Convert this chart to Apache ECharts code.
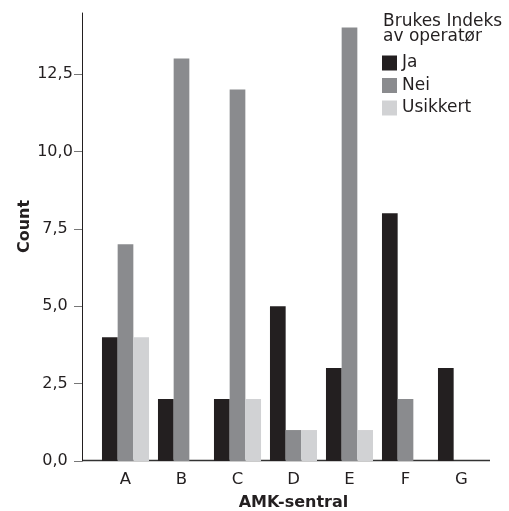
<!DOCTYPE html>
<html>
<head>
<meta charset="utf-8">
<script src="https://cdn.jsdelivr.net/npm/echarts@6/dist/echarts.min.js"></script>
<style>html,body{margin:0;padding:0;background:#fff}#c{width:509px;height:511px}</style>
</head>
<body>
<div id="c"></div>
<script>
var categories = ['A', 'B', 'C', 'D', 'E', 'F', 'G'];
var seriesNames = ['Ja', 'Nei', 'Usikkert'];
var jaValues = [4, 2, 2, 5, 3, 8, 3];
var neiValues = [7, 13, 12, 1, 14, 2, 0];
var usikkertValues = [4, 0, 2, 1, 1, 0, 0];
var yTickValues = [0, 2.5, 5, 7.5, 10, 12.5];
var colors = ['#231f20', '#8a8b8e', '#d1d2d4'];

var FONT = 'DejaVu Sans';
var chart = echarts.init(document.getElementById('c'), null, {renderer: 'canvas'});
var gridLeft = 97.5, gridRight = 489.5, yAxisX = 82, gridTop = 13, gridBottom = 50;

function fmt(v) { return Number(v).toFixed(1).replace('.', ','); }

var option = {
  animation: false,
  backgroundColor: '#ffffff',
  title: {
    text: 'Brukes Indeks\nav operatør',
    left: 383, top: 14.5, padding: 0,
    textStyle: {fontFamily: FONT, fontSize: 17, fontWeight: 'normal', color: '#231f20', lineHeight: 15}
  },
  legend: {
    orient: 'vertical', left: 382, top: 54.5, padding: 0,
    itemWidth: 15, itemHeight: 15, itemGap: 5.5, icon: 'rect',
    data: seriesNames,
    textStyle: {fontFamily: FONT, fontSize: 17, color: '#231f20'}
  },
  grid: {left: gridLeft, right: 509 - gridRight, top: gridTop, bottom: gridBottom,
    containLabel: false, outerBoundsMode: 'none'},
  xAxis: {
    type: 'category', data: categories,
    name: 'AMK-sentral', nameLocation: 'middle', nameGap: 34, nameMoveOverlap: false,
    nameTextStyle: {fontFamily: FONT, fontSize: 16, fontWeight: 'bold', color: '#231f20'},
    axisLine: {show: false},
    axisTick: {show: false},
    axisLabel: {fontFamily: FONT, fontSize: 16.5, color: '#231f20', margin: 10}
  },
  yAxis: {
    type: 'value', min: 0, max: 14.47, interval: 2.5, offset: gridLeft - yAxisX,
    name: 'Count', nameLocation: 'middle', nameGap: 49, nameMoveOverlap: false,
    nameTextStyle: {fontFamily: FONT, fontSize: 16, fontWeight: 'bold', color: '#231f20', padding: [0, 0, 0, 21]},
    axisLine: {show: true, lineStyle: {color: '#231f20', width: 1}},
    axisTick: {show: true, length: 8, lineStyle: {color: '#777777'}, customValues: yTickValues},
    axisLabel: {fontFamily: FONT, fontSize: 16, color: '#231f20', margin: 27, align: 'center',
      customValues: yTickValues, formatter: fmt},
    splitLine: {show: false}
  },
  graphic: [{
    type: 'line', silent: true, z: 0,
    shape: {x1: yAxisX, y1: 511 - gridBottom - 0.5, x2: gridRight + 0.5, y2: 511 - gridBottom - 0.5},
    style: {stroke: '#333333', lineWidth: 1.5}
  }],
  series: [
    {name: seriesNames[0], type: 'bar', data: jaValues, itemStyle: {color: colors[0]}, barGap: '0%', barCategoryGap: '16%'},
    {name: seriesNames[1], type: 'bar', data: neiValues, itemStyle: {color: colors[1]}, barGap: '0%', barCategoryGap: '16%'},
    {name: seriesNames[2], type: 'bar', data: usikkertValues, itemStyle: {color: colors[2]}, barGap: '0%', barCategoryGap: '16%'}
  ]
};
chart.setOption(option);
</script>
</body>
</html>
